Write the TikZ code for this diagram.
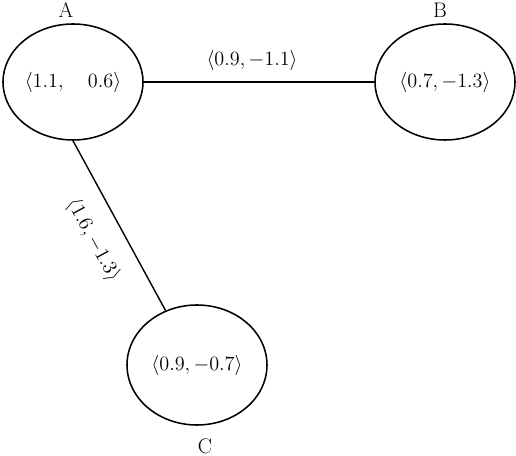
\documentclass[tikz,border=0pt]{standalone}
\usepackage{amsmath,amssymb}
\usetikzlibrary{positioning,shapes.geometric}
\tikzset{
  state/.style={ellipse,draw,line width=1.1pt,minimum width=3.5cm,minimum height=2.9cm,inner sep=0},
  lab/.style={font=\fontsize{15}{17}\selectfont},
  edge/.style={line width=1.8pt},
  thinedge/.style={line width=1.0pt},
}
\begin{document}
\begin{tikzpicture}
  \useasboundingbox (0,0) rectangle (12.9,11.4);
  % the three states, each with its vector inside
  \node[state,lab] (A) at (1.825,9.35) {$\langle 1.1,\quad 0.6\rangle$};
  \node[state,lab] (B) at (11.125,9.35) {$\langle 0.7,-1.3\rangle$};
  \node[state,lab,minimum height=3.0cm] (C) at (4.925,2.275) {$\langle 0.9,-0.7\rangle$};
  % their names
  \node[lab] (Aname) at (1.65,11.15) {A};
  \node[lab] (Bname) at (11.0,11.15) {B};
  \node[lab] (Cname) at (5.125,0.25) {C};
  % links, labels sit along them
  \draw[edge] (A) -- node[lab,above=1.3mm,pos=0.47] (ABlab) {$\langle 0.9,-1.1\rangle$} (B);
  \draw[thinedge] (A.south) -- node[lab,sloped,below=3.6mm,pos=0.5] (AClab) {$\langle 1.6,-1.3\rangle$} (C.120);
\end{tikzpicture}
\end{document}
